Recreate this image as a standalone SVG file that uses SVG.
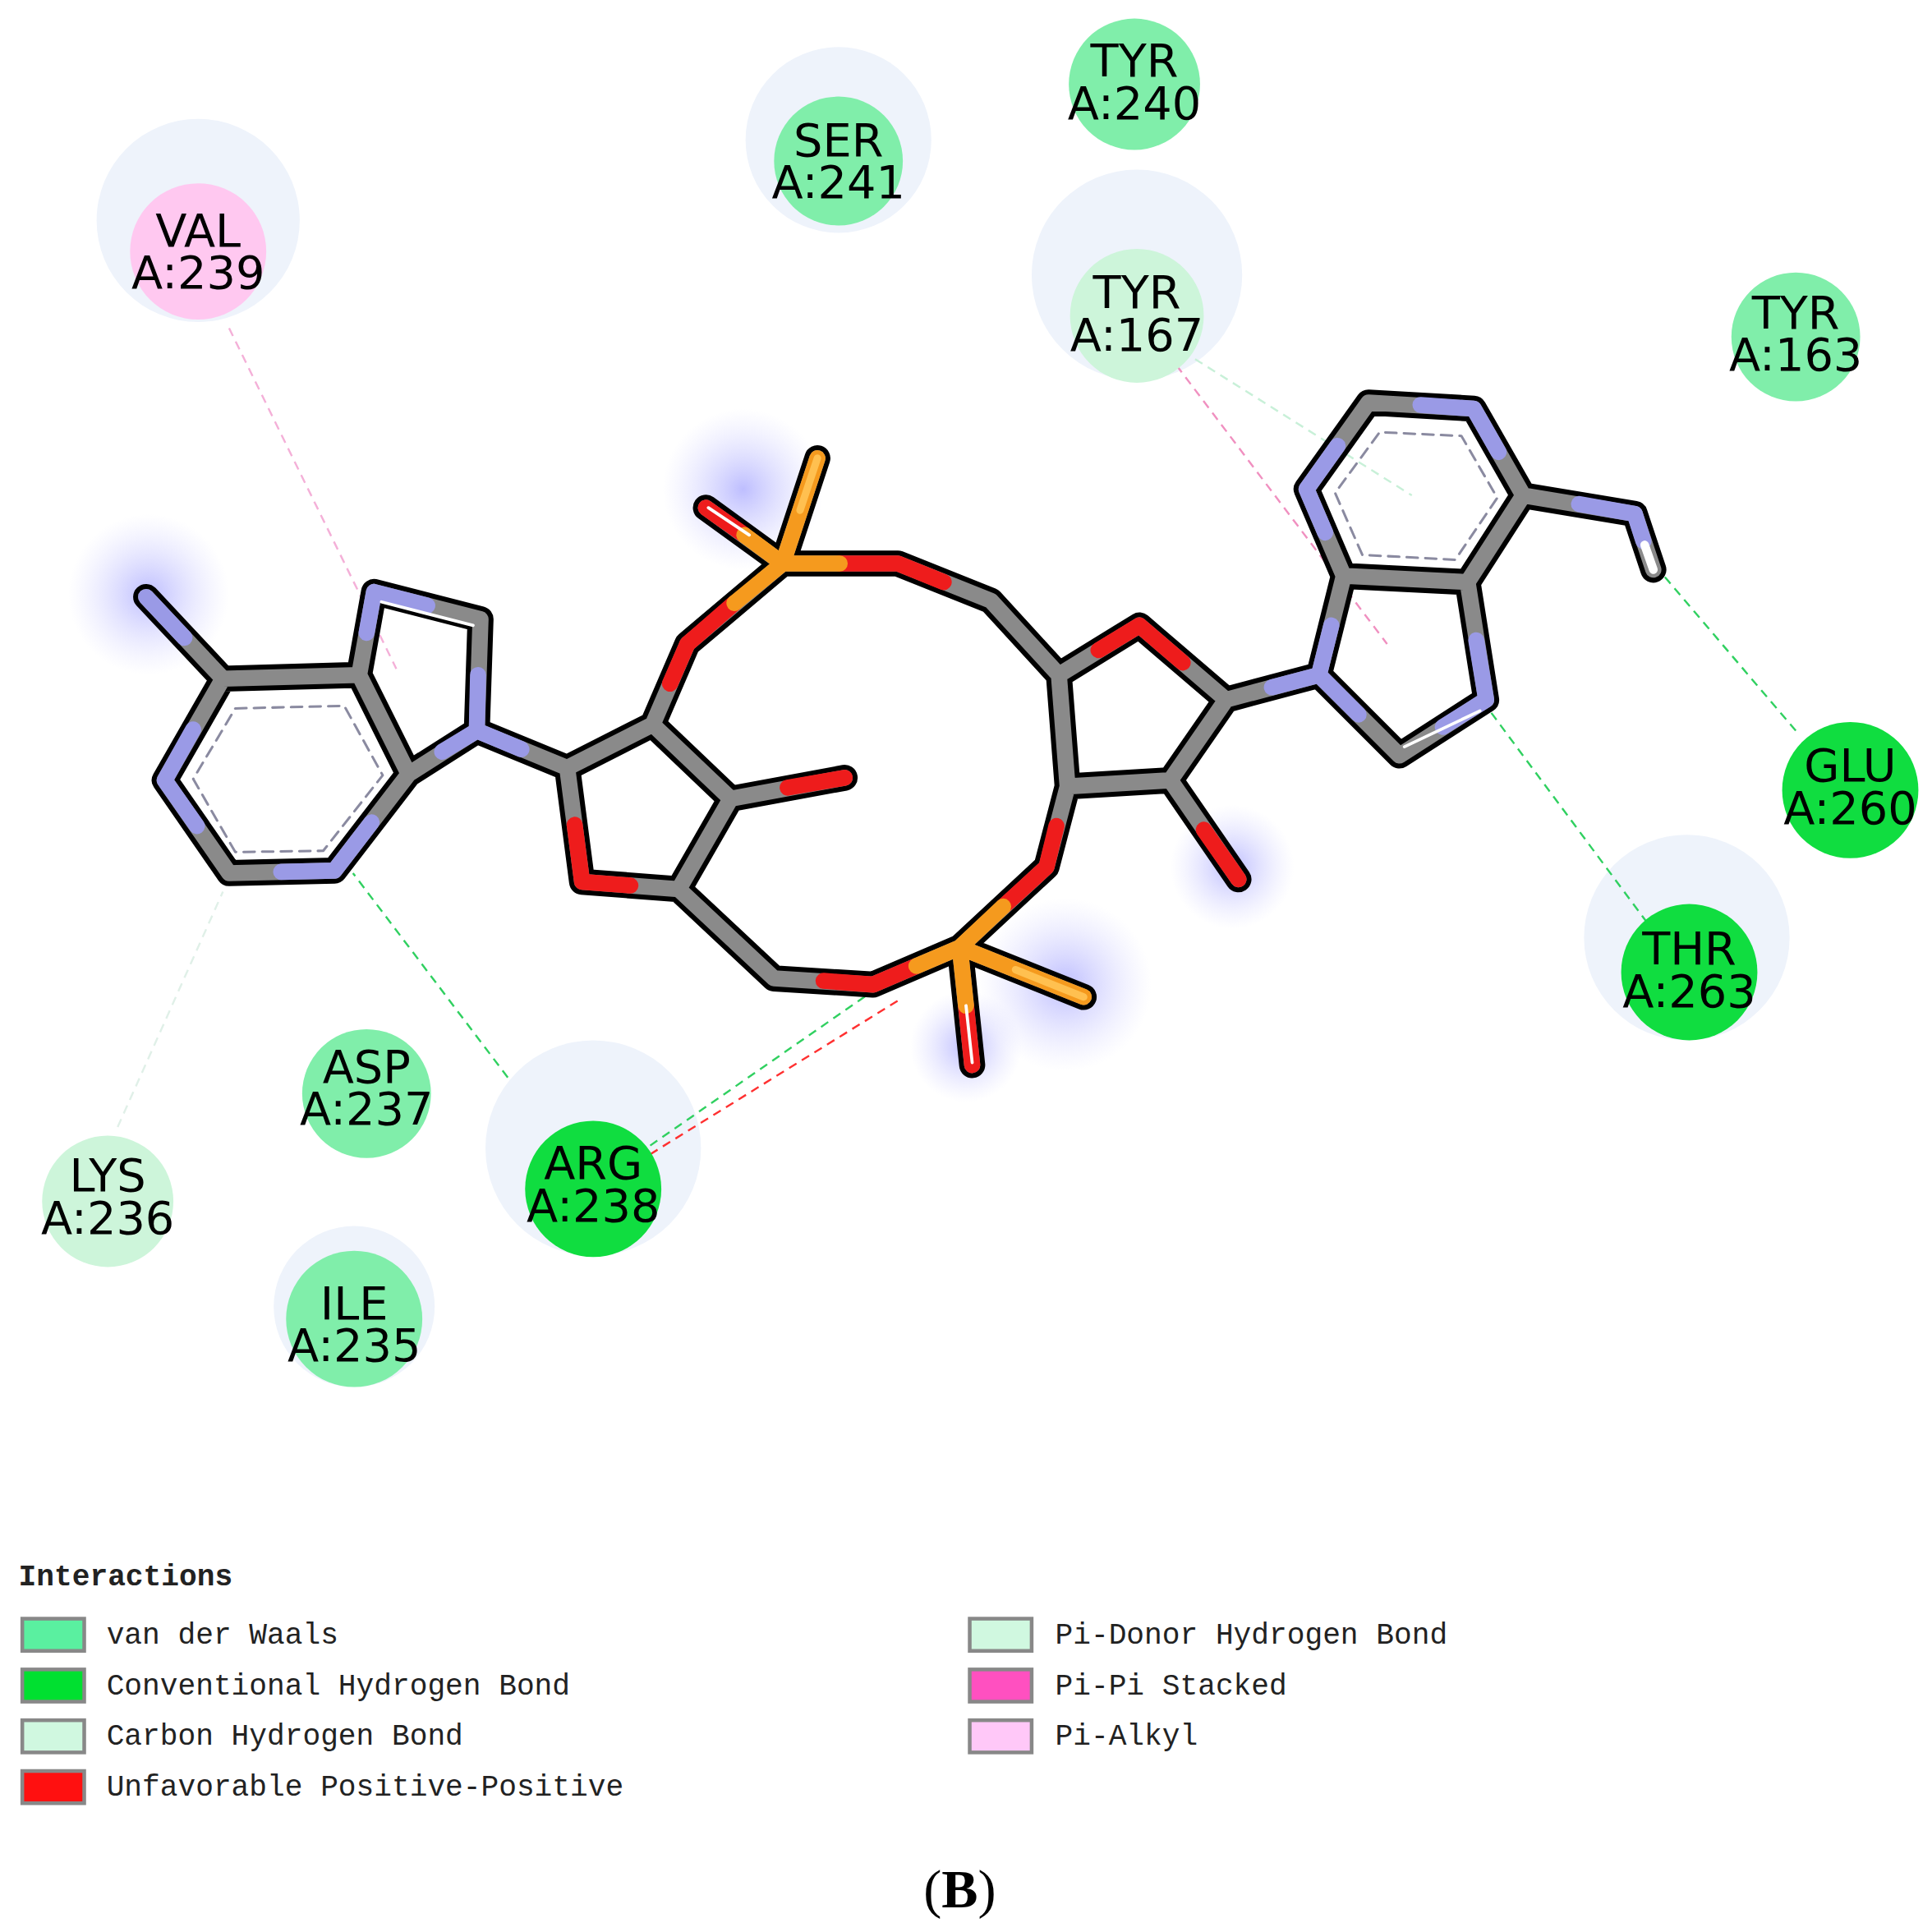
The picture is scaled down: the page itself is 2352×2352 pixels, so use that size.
<svg xmlns="http://www.w3.org/2000/svg" width="2352" height="2352" viewBox="0 0 2352 2352">
<style>
.lbl{font-family:"DejaVu Sans","Noto Sans",sans-serif;font-size:37px;fill:#000;text-anchor:middle}
.halo{fill:#eef3fb}
.vdw{fill:#80eeaa}
.chb{fill:#cdf5da}
.cv{fill:#10dd40}
.pa{fill:#ffc8f0}
.leg{font-family:"Liberation Mono","DejaVu Sans Mono",monospace;font-size:24px;fill:#222}
.sw{stroke:#888;stroke-width:3}
.ia{fill:none;stroke-width:1.6;stroke-dasharray:7 5}
</style>
<defs>
<radialGradient id="glow"><stop offset="0" stop-color="#a8a8ff" stop-opacity="0.75"/><stop offset="1" stop-color="#d0d0ff" stop-opacity="0"/></radialGradient>
<path id="bonds" d="M118,482L180,548L290,545L330,625L270,703L185,705L133,630L180,548 M290,545L302,478L388,500L385,590L330,625 M385,590L458,620L470,712L548,718L590,645L527,585L458,620 M590,645L682,628 M527,585L555,520L632,455L570,410 M632,455L660,370 M632,455L725,455L800,485L855,545L862,635 M855,545L920,505L990,565L945,630L862,635 M945,630L1000,710 M862,635L845,700L775,765L705,795L625,790L548,718 M775,765L785,860 M775,765L875,805 M990,565L1065,545L1130,610L1200,565L1185,470L1085,465L1065,545 M1085,465L1055,395L1105,325L1190,330L1230,400L1185,470 M1230,400L1320,415L1335,460"/>
</defs>
<rect width="2352" height="2352" fill="#fff"/>
<g transform="scale(1.5077)">
<g id="halos">
<circle class="halo" cx="160" cy="178" r="82"/>
<circle class="halo" cx="677" cy="113" r="75"/>
<circle class="halo" cx="918" cy="222" r="85"/>
<circle class="halo" cx="1362" cy="757" r="83"/>
<circle class="halo" cx="479" cy="927" r="87"/>
<circle class="halo" cx="286" cy="1055" r="65"/>
<circle fill="url(#glow)" cx="120" cy="480" r="65"/>
<circle fill="url(#glow)" cx="600" cy="395" r="65"/>
<circle fill="url(#glow)" cx="860" cy="795" r="70"/>
<circle fill="url(#glow)" cx="995" cy="700" r="50"/>
<circle fill="url(#glow)" cx="780" cy="845" r="45"/>
</g>
<g id="connectors">
<path class="ia" stroke="#f4b0d8" d="M185,265 L320,540"/>
<path class="ia" stroke="#f090c0" d="M950,295 L1120,520"/>
<path class="ia" stroke="#c8f0d8" d="M965,290 L1140,400"/>
<path class="ia" stroke="#30d060" d="M1450,590 L1335,455"/>
<path class="ia" stroke="#30d060" d="M1330,745 L1200,570"/>
<path class="ia" stroke="#30d060" d="M410,870 L285,705"/>
<path class="ia" stroke="#30d060" d="M525,925 L705,800"/>
<path class="ia" stroke="#ff3030" d="M525,932 L725,808"/>
<path class="ia" stroke="#e0f0e8" d="M95,910 L180,720"/>
</g>
<g id="molecule" stroke-linecap="round" stroke-linejoin="round" fill="none">
<use href="#bonds" stroke="#000" stroke-width="21"/>
<use href="#bonds" stroke="#8a8a8a" stroke-width="13"/>
<path stroke="#9a9ae6" stroke-width="13" d="M118,482L149,515 M270,703L300,664 M270,703L227,704 M133,630L159,667 M133,630L156,589 M302,478L296,511 M302,478L345,489 M385,590L386,545 M385,590L357,607 M385,590L421,605 M1065,545L1027,555 M1065,545L1097,577 M1200,565L1165,587 M1200,565L1192,517 M1065,545L1075,505 M1055,395L1070,430 M1055,395L1080,360 M1190,330L1147,327 M1190,330L1210,365 M1320,415L1275,407 M1320,415L1327,437"/>
<path stroke="#ee1c1c" stroke-width="13" d="M470,712L464,666 M470,712L509,715 M682,628L636,636 M555,520L541,552 M555,520L593,487 M570,410L601,432 M725,455L678,455 M725,455L762,470 M920,505L887,525 M920,505L955,535 M1000,710L972,670 M845,700L853,667 M845,700L810,732 M705,795L740,780 M705,795L665,792 M785,860L780,812"/>
<path stroke="#f59a1e" stroke-width="13" d="M632,455L593,487 M632,455L601,432 M632,455L660,370 M632,455L678,455 M775,765L810,732 M775,765L740,780 M775,765L780,812 M775,765L875,805"/>
<path stroke="#ffc050" stroke-width="6" d="M646,412L660,370 M820,783L875,805"/>
<path stroke="#fff" stroke-width="2.5" d="M605,432L572,410 M780,812L785,858 M308,486L382,505 M1134,603L1195,574"/>
<path stroke="#fff" stroke-width="7" d="M1335,460L1328,440"/>
<polygon points="190,572 278,570 309,626 261,687 190,688 156,629" stroke="#8a8aa0" stroke-width="2" stroke-dasharray="9 6"/>
<polygon points="1100,448 1078,398 1114,349 1180,352 1209,402 1175,452" stroke="#8a8aa0" stroke-width="2" stroke-dasharray="9 6"/>
</g>
<g id="VAL239"><circle class="pa" cx="160" cy="203" r="55"/><text class="lbl" x="160" y="199">VAL</text><text class="lbl" x="160" y="233">A:239</text></g>
<g id="SER241"><circle class="vdw" cx="677" cy="130" r="52"/><text class="lbl" x="677" y="126">SER</text><text class="lbl" x="677" y="160">A:241</text></g>
<g id="TYR240"><circle class="vdw" cx="916" cy="68" r="53"/><text class="lbl" x="916" y="62">TYR</text><text class="lbl" x="916" y="96">A:240</text></g>
<g id="TYR167"><circle class="chb" cx="918" cy="255" r="54"/><text class="lbl" x="918" y="249">TYR</text><text class="lbl" x="918" y="283">A:167</text></g>
<g id="TYR163"><circle class="vdw" cx="1450" cy="272" r="52"/><text class="lbl" x="1450" y="265">TYR</text><text class="lbl" x="1450" y="299">A:163</text></g>
<g id="GLU260"><circle class="cv" cx="1494" cy="638" r="55"/><text class="lbl" x="1494" y="631">GLU</text><text class="lbl" x="1494" y="665">A:260</text></g>
<g id="THR263"><circle class="cv" cx="1364" cy="785" r="55"/><text class="lbl" x="1364" y="779">THR</text><text class="lbl" x="1364" y="813">A:263</text></g>
<g id="ARG238"><circle class="cv" cx="479" cy="960" r="55"/><text class="lbl" x="479" y="952">ARG</text><text class="lbl" x="479" y="986">A:238</text></g>
<g id="ASP237"><circle class="vdw" cx="296" cy="883" r="52"/><text class="lbl" x="296" y="874">ASP</text><text class="lbl" x="296" y="908">A:237</text></g>
<g id="LYS236"><circle class="chb" cx="87" cy="970" r="53"/><text class="lbl" x="87" y="962">LYS</text><text class="lbl" x="87" y="996">A:236</text></g>
<g id="ILE235"><circle class="vdw" cx="286" cy="1065" r="55"/><text class="lbl" x="286" y="1065">ILE</text><text class="lbl" x="286" y="1099">A:235</text></g>
<g id="legend">
<text class="leg" x="15" y="1280" font-weight="bold" fill="#000">Interactions</text>
<rect class="sw" x="18" y="1307" width="50" height="26" fill="#5af0a0"/><text class="leg" x="86" y="1327">van der Waals</text>
<rect class="sw" x="18" y="1348" width="50" height="26" fill="#00e030"/><text class="leg" x="86" y="1368">Conventional Hydrogen Bond</text>
<rect class="sw" x="18" y="1389" width="50" height="26" fill="#d0f8e0"/><text class="leg" x="86" y="1409">Carbon Hydrogen Bond</text>
<rect class="sw" x="18" y="1430" width="50" height="26" fill="#ff1010"/><text class="leg" x="86" y="1450">Unfavorable Positive-Positive</text>
<rect class="sw" x="783" y="1307" width="50" height="26" fill="#d0f8e0"/><text class="leg" x="852" y="1327">Pi-Donor Hydrogen Bond</text>
<rect class="sw" x="783" y="1348" width="50" height="26" fill="#ff50c0"/><text class="leg" x="852" y="1368">Pi-Pi Stacked</text>
<rect class="sw" x="783" y="1389" width="50" height="26" fill="#ffc8f8"/><text class="leg" x="852" y="1409">Pi-Alkyl</text>
</g>
<text x="775" y="1540" text-anchor="middle" font-family="Liberation Serif,serif" font-size="44" fill="#000">(<tspan font-weight="bold">B</tspan>)</text>
</g>
</svg>
